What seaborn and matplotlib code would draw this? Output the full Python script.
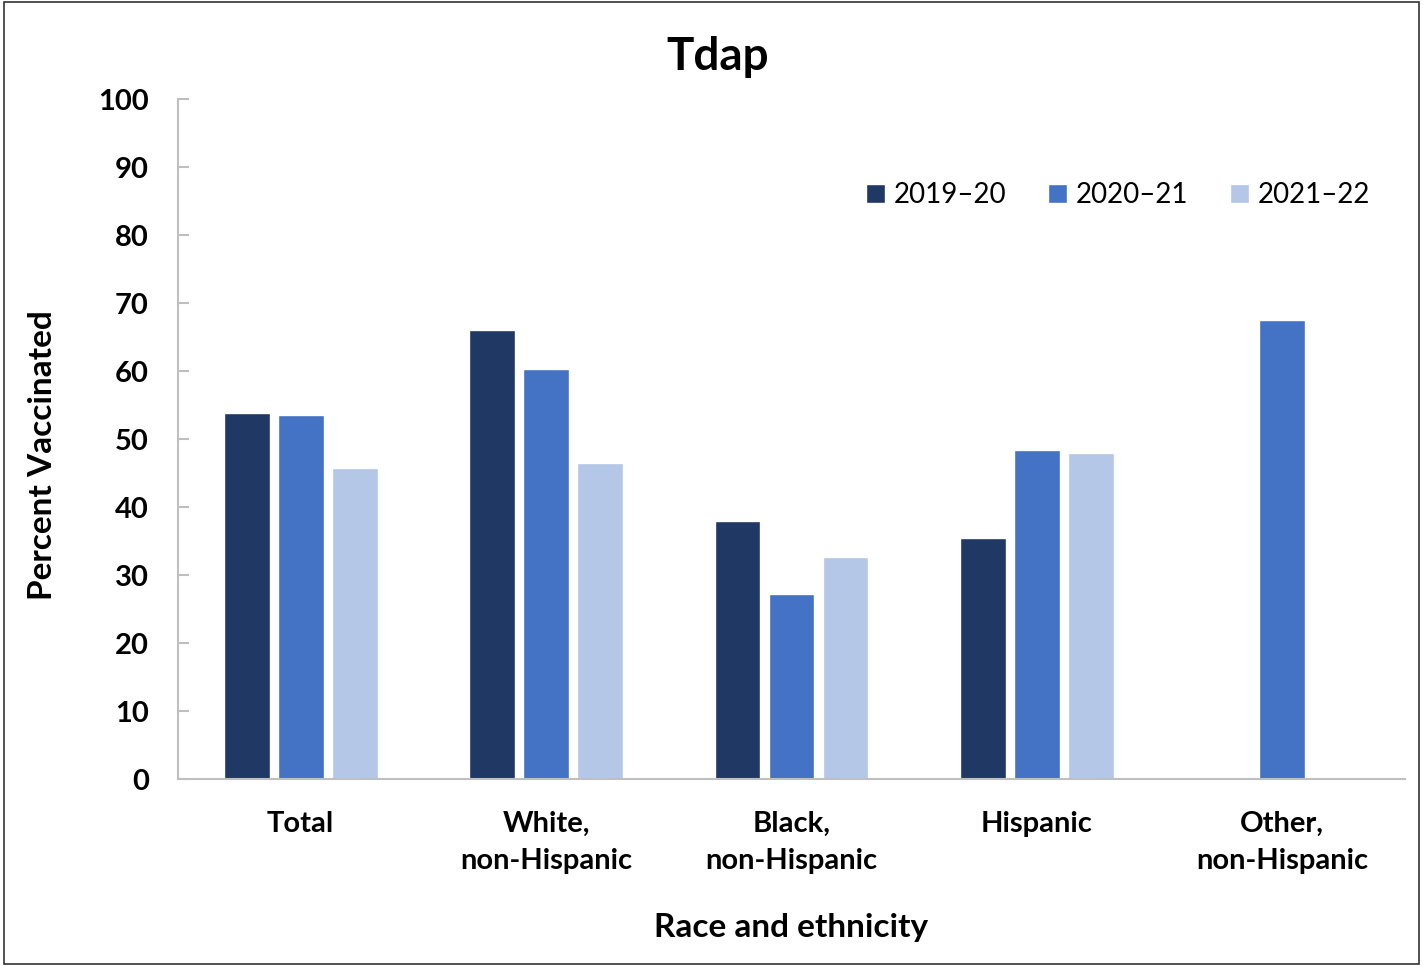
import matplotlib
matplotlib.use("Agg")
import matplotlib.pyplot as plt
import seaborn as sns
import pandas as pd
import numpy as np
from matplotlib.patches import Rectangle

categories = ["Total", "White,\nnon-Hispanic", "Black,\nnon-Hispanic", "Hispanic", "Other,\nnon-Hispanic"]
seasons = ["2019\u201320", "2020\u201321", "2021\u201322"]
v2019 = [53.8, 66.0, 37.9, 35.4, np.nan]
v2020 = [53.5, 60.3, 27.2, 48.4, 67.5]
v2021 = [45.7, 46.5, 32.6, 47.9, np.nan]
colors = ["#1F3864", "#4472C4", "#B4C7E7"]

rows = []
for s, vals in zip(seasons, [v2019, v2020, v2021]):
    for c, v in zip(categories, vals):
        rows.append({"Category": c, "Season": s, "Value": v})
df = pd.DataFrame(rows)

sns.set_theme(style="white")
plt.rcParams["font.family"] = ["Lato", "DejaVu Sans"]
plt.rcParams["text.color"] = "black"
plt.rcParams["axes.labelcolor"] = "black"
plt.rcParams["xtick.labelcolor"] = "black"
plt.rcParams["ytick.labelcolor"] = "black"

W, H = 1423, 966
fig = plt.figure(figsize=(W/100, H/100), dpi=100)
ax = fig.add_axes([178/W, 1-779/H, (1405-178)/W, (779-99)/H])

sns.barplot(data=df, x="Category", y="Value", hue="Season", order=categories,
            hue_order=seasons, palette=colors, width=0.66, gap=0.15,
            saturation=1, ax=ax, legend=True)

ax.set_ylim(0, 100)
ax.set_xlim(-0.5, 4.5)
ax.set_yticks(range(0, 101, 10))
ax.tick_params(axis="y", which="both", left=True, direction="in", length=8, width=1.5,
               color="#BFBFBF", labelsize=21, pad=21, labelcolor="black")
ax.tick_params(axis="x", bottom=False, labelsize=21, pad=17, labelcolor="black")
for lab in ax.get_yticklabels() + ax.get_xticklabels():
    lab.set_fontweight("bold")
for lab in ax.get_xticklabels():
    lab.set_linespacing(1.55)
for sp in ["top", "right"]:
    ax.spines[sp].set_visible(False)
for sp in ["left", "bottom"]:
    ax.spines[sp].set_color("#BFBFBF")
    ax.spines[sp].set_linewidth(1.5)

ax.set_ylabel("Percent Vaccinated", fontsize=24, fontweight="bold", va="center", color="black")
ax.yaxis.set_label_coords((43-178)/1227, (779-455)/680)
ax.set_xlabel("Race and ethnicity", fontsize=24, fontweight="bold", va="center", color="black")
ax.xaxis.set_label_coords(0.5, (779-928)/680)
fig.text(718/W, 1-57/H, "Tdap", fontsize=33, fontweight="bold", ha="center", va="center",
         color="black")

leg = ax.legend(loc="center right", bbox_to_anchor=((1370-178)/1227, (779-195)/680), ncol=3,
                frameon=False, fontsize=20, handlelength=0.7, handleheight=0.7,
                handletextpad=0.3, columnspacing=1.5, borderaxespad=0, borderpad=0)
for t in leg.get_texts():
    t.set_color("black")

fig.patches.append(Rectangle((0.003, 0.002), 0.994, 0.996, transform=fig.transFigure,
                             fill=False, edgecolor="#333333", linewidth=1.2))

fig.savefig("out.png", dpi=100)
